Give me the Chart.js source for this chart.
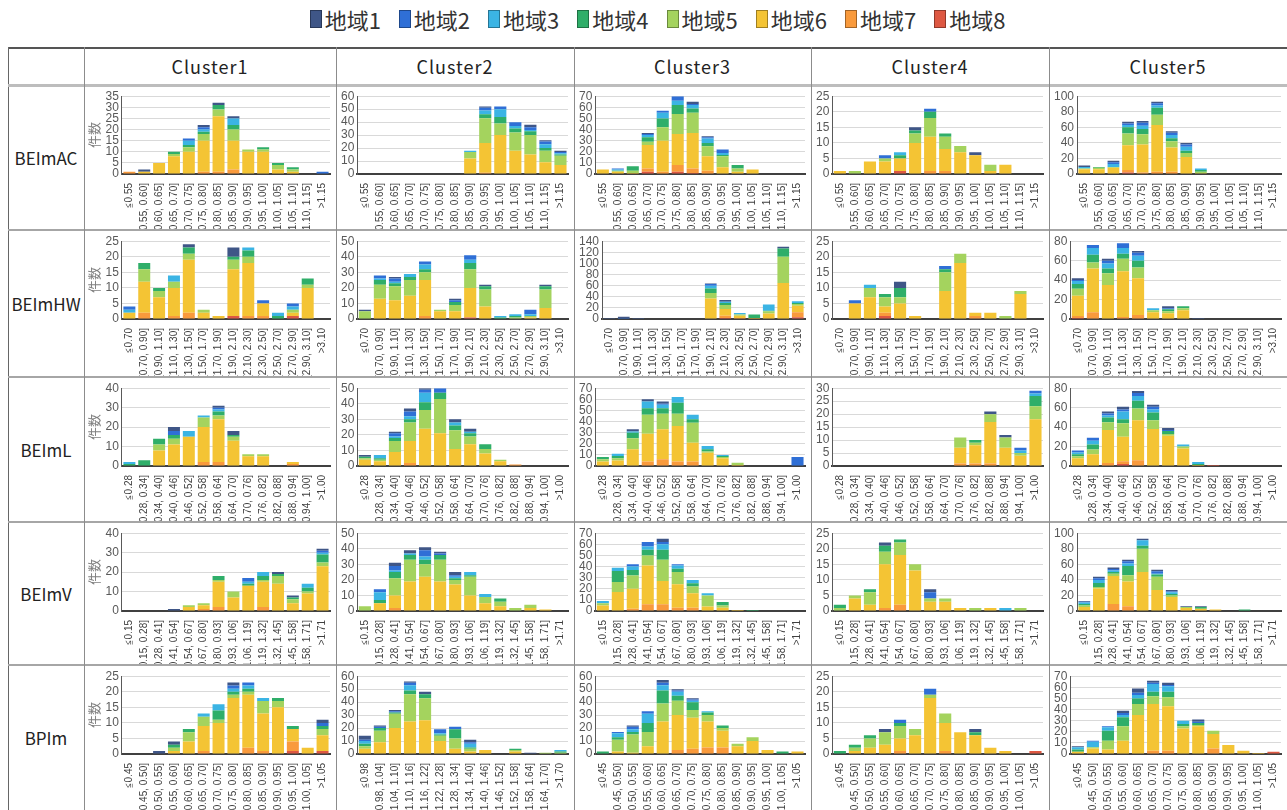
<!DOCTYPE html>
<html lang="ja">
<head>
<meta charset="UTF-8">
<title>クラスター別 指標分布</title>
<script src="https://cdn.jsdelivr.net/npm/chart.js"></script>
<style>
    body {
        margin: 0;
        width: 1287px;
        height: 810px;
        overflow: hidden;
        position: relative;
        background: #fff;
        font-family: 'Noto Sans CJK JP', sans-serif;
    }
    .legend {
        position: absolute;
        top: 4px;
        left: 14px;
        width: 1287px;
        display: flex;
        justify-content: center;
        gap: 18px;
        font-size: 22px;
        color: #333;
        line-height: 30px;
    }
    .legend-item { display: flex; align-items: center; gap: 3px; }
    .swatch {
        width: 12px;
        height: 18px;
        box-sizing: border-box;
        border: 1.5px solid rgba(0, 0, 0, 0.35);
    }
    .cell { position: absolute; overflow: hidden; }
    .head {
        display: flex;
        align-items: center;
        justify-content: center;
        font-size: 18px;
        letter-spacing: 1px;
        color: #222;
    }
    .rowhead { font-size: 17px; letter-spacing: 0; }
    .rule { position: absolute; }
</style>
</head>
<body>
<div class="legend" id="legend"></div>

<script>
    // 地域ごとの系列名と色
    const regions = ['地域1', '地域2', '地域3', '地域4', '地域5', '地域6', '地域7', '地域8'];
    const colors = ['#3f5687', '#2f6fd6', '#3bb4e4', '#2fae69', '#a4d35e', '#f4c434', '#f99a3c', '#de5842'];

    const clusters = ['Cluster1', 'Cluster2', 'Cluster3', 'Cluster4', 'Cluster5'];
    const indicators = ['BEImAC', 'BEImHW', 'BEImL', 'BEImV', 'BPIm'];

    // 階級ラベル
    const binsAC = ['≦0.55', '(0.55, 0.60]', '(0.60, 0.65]', '(0.65, 0.70]', '(0.70, 0.75]', '(0.75, 0.80]', '(0.80, 0.85]',
        '(0.85, 0.90]', '(0.90, 0.95]', '(0.95, 1.00]', '(1.00, 1.05]', '(1.05, 1.10]', '(1.10, 1.15]', '>1.15'];
    const binsHW = ['≦0.70', '(0.70, 0.90]', '(0.90, 1.10]', '(1.10, 1.30]', '(1.30, 1.50]', '(1.50, 1.70]', '(1.70, 1.90]',
        '(1.90, 2.10]', '(2.10, 2.30]', '(2.30, 2.50]', '(2.50, 2.70]', '(2.70, 2.90]', '(2.90, 3.10]', '>3.10'];
    const binsL = ['≦0.28', '(0.28, 0.34]', '(0.34, 0.40]', '(0.40, 0.46]', '(0.46, 0.52]', '(0.52, 0.58]', '(0.58, 0.64]',
        '(0.64, 0.70]', '(0.70, 0.76]', '(0.76, 0.82]', '(0.82, 0.88]', '(0.88, 0.94]', '(0.94, 1.00]', '>1.00'];
    const binsV = ['≦0.15', '(0.15, 0.28]', '(0.28, 0.41]', '(0.41, 0.54]', '(0.54, 0.67]', '(0.67, 0.80]', '(0.80, 0.93]',
        '(0.93, 1.06]', '(1.06, 1.19]', '(1.19, 1.32]', '(1.32, 1.45]', '(1.45, 1.58]', '(1.58, 1.71]', '>1.71'];
    const binsPI = ['≦0.45', '(0.45, 0.50]', '(0.50, 0.55]', '(0.55, 0.60]', '(0.60, 0.65]', '(0.65, 0.70]', '(0.70, 0.75]',
        '(0.75, 0.80]', '(0.80, 0.85]', '(0.85, 0.90]', '(0.90, 0.95]', '(0.95, 1.00]', '(1.00, 1.05]', '>1.05'];
    const binsPI2 = ['≦0.98', '(0.98, 1.04]', '(1.04, 1.10]', '(1.10, 1.16]', '(1.16, 1.22]', '(1.22, 1.28]', '(1.28, 1.34]',
        '(1.34, 1.40]', '(1.40, 1.46]', '(1.46, 1.52]', '(1.52, 1.58]', '(1.58, 1.64]', '(1.64, 1.70]', '>1.70'];

    // 縦軸の最大値と目盛間隔(行 = 指標, 列 = クラスター)
    const yMax = [[35, 60, 70, 25, 100], [25, 50, 140, 25, 80], [40, 50, 70, 30, 80], [40, 50, 70, 25, 100], [25, 60, 60, 25, 70]];
    const yStep = [[5, 10, 10, 5, 20], [5, 10, 20, 5, 20], [10, 10, 10, 5, 20], [10, 10, 10, 5, 20], [5, 10, 10, 5, 10]];

    // 件数: 各配列は 地域1 … 地域8 の順
    const acC1 = [
        [0, 1, 0, 0, 0, 1, 1, 1, 0, 0, 0, 0, 0, 0],
        [0, 0, 0, 0, 1, 1, 0, 0, 0, 0, 0, 0, 0, 1],
        [0, 0, 0, 0, 2, 1, 0, 3, 0, 0, 0, 0, 0, 0],
        [0, 0, 0, 1, 1, 1, 2, 2, 0, 1, 1, 1, 0, 0],
        [0, 0, 0, 1, 2, 3, 3, 5, 1, 1, 2, 1, 0, 0],
        [0, 1, 5, 8, 10, 14, 25, 13, 10, 10, 2, 1, 0, 0],
        [1, 0, 0, 0, 0, 1, 1, 2, 0, 0, 0, 0, 0, 0],
        [0, 0, 0, 0, 0, 0, 0, 0, 0, 0, 0, 0, 0, 0]
    ];
    const acC2 = [
        [0, 0, 0, 0, 0, 0, 0, 0, 1, 0, 0, 2, 1, 1],
        [0, 0, 0, 0, 0, 0, 0, 0, 2, 2, 3, 2, 2, 1],
        [0, 0, 0, 0, 0, 0, 0, 1, 3, 6, 2, 1, 3, 1],
        [0, 0, 0, 0, 0, 0, 0, 0, 3, 5, 3, 3, 2, 1],
        [0, 0, 0, 0, 0, 0, 0, 5, 19, 9, 14, 15, 9, 7],
        [0, 0, 0, 0, 0, 0, 0, 12, 23, 30, 18, 15, 9, 7],
        [0, 0, 0, 0, 0, 0, 0, 0, 1, 0, 0, 0, 0, 0],
        [0, 0, 0, 0, 0, 0, 0, 0, 0, 0, 0, 0, 0, 0]
    ];
    const acC3 = [
        [0, 0, 0, 1, 0, 0, 2, 1, 0, 0, 0, 0, 0, 0],
        [0, 1, 0, 1, 2, 4, 1, 1, 3, 0, 0, 0, 0, 0],
        [0, 1, 0, 2, 5, 4, 3, 4, 2, 0, 0, 0, 0, 0],
        [0, 0, 4, 4, 8, 8, 4, 3, 1, 3, 0, 0, 0, 0],
        [0, 1, 2, 3, 12, 18, 18, 9, 10, 3, 0, 0, 0, 0],
        [4, 2, 1, 21, 28, 28, 32, 13, 6, 2, 4, 0, 0, 0],
        [0, 0, 0, 3, 2, 6, 4, 3, 0, 0, 0, 0, 0, 0],
        [0, 0, 0, 2, 0, 2, 1, 0, 0, 0, 0, 0, 0, 0]
    ];
    const acC4 = [
        [0, 0, 0, 0, 0, 1, 0, 0, 0, 1, 0, 0, 0, 0],
        [0, 0, 0, 1, 0, 0, 1, 0, 0, 0, 0, 0, 0, 0],
        [0, 0, 0, 0, 1, 0, 0, 0, 0, 0, 0, 0, 0, 0],
        [0, 0, 0, 0, 1, 1, 2, 1, 0, 0, 0, 0, 0, 0],
        [0, 1, 0, 1, 0, 3, 6, 4, 2, 0, 2, 0, 0, 0],
        [1, 0, 4, 4, 4, 10, 11, 7, 7, 6, 1, 3, 0, 0],
        [0, 0, 0, 0, 0, 0, 1, 1, 0, 0, 0, 0, 0, 0],
        [0, 0, 0, 0, 1, 0, 0, 0, 0, 0, 0, 0, 0, 0]
    ];
    const acC5 = [
        [2, 0, 2, 2, 2, 2, 2, 2, 0, 0, 0, 0, 0, 0],
        [0, 0, 2, 2, 4, 3, 3, 3, 0, 0, 0, 0, 0, 0],
        [2, 0, 4, 3, 4, 3, 4, 5, 2, 0, 0, 0, 0, 0],
        [0, 1, 0, 8, 7, 9, 4, 3, 2, 0, 0, 0, 0, 0],
        [1, 2, 1, 15, 13, 13, 8, 5, 2, 0, 0, 0, 0, 0],
        [6, 6, 8, 32, 36, 60, 31, 22, 1, 0, 0, 0, 0, 0],
        [0, 0, 0, 3, 2, 3, 3, 0, 0, 0, 0, 0, 0, 0],
        [0, 0, 0, 2, 0, 0, 0, 0, 0, 0, 0, 0, 0, 0]
    ];

    const hwC1 = [
        [0, 0, 0, 0, 1, 0, 0, 3, 0, 0, 0, 0, 0, 0],
        [1, 0, 0, 0, 0, 0, 0, 0, 0, 1, 0, 1, 0, 0],
        [1, 0, 0, 2, 0, 0, 0, 0, 1, 0, 1, 1, 0, 0],
        [0, 2, 1, 0, 2, 0, 0, 1, 2, 0, 1, 0, 2, 0],
        [0, 4, 2, 2, 2, 1, 0, 3, 2, 0, 0, 1, 1, 0],
        [2, 10, 7, 9, 17, 2, 1, 15, 17, 4, 0, 1, 10, 0],
        [0, 2, 0, 1, 2, 0, 0, 0, 1, 1, 0, 0, 0, 0],
        [0, 0, 0, 0, 0, 0, 0, 1, 0, 0, 0, 1, 0, 0]
    ];
    const hwC2 = [
        [1, 0, 1, 0, 0, 0, 1, 0, 1, 0, 0, 0, 1, 0],
        [0, 2, 2, 0, 2, 0, 1, 3, 0, 0, 0, 3, 0, 0],
        [0, 1, 1, 2, 3, 0, 0, 2, 0, 1, 1, 1, 0, 0],
        [0, 3, 2, 2, 2, 0, 2, 4, 2, 1, 1, 0, 2, 0],
        [5, 9, 9, 10, 5, 1, 4, 12, 11, 0, 1, 1, 12, 0],
        [0, 13, 12, 15, 23, 5, 5, 19, 8, 0, 0, 1, 7, 0],
        [0, 0, 0, 0, 2, 0, 0, 0, 0, 0, 0, 0, 0, 0],
        [0, 0, 0, 0, 0, 0, 0, 1, 0, 0, 0, 0, 0, 0]
    ];
    const hwC3 = [
        [1, 2, 1, 0, 0, 0, 0, 1, 3, 0, 0, 0, 3, 0],
        [1, 2, 1, 0, 0, 0, 0, 3, 0, 0, 0, 0, 0, 0],
        [0, 0, 0, 0, 0, 0, 0, 5, 2, 3, 0, 11, 0, 3],
        [0, 0, 0, 0, 0, 0, 0, 8, 4, 0, 6, 1, 15, 2],
        [0, 0, 0, 0, 0, 0, 0, 10, 7, 2, 0, 4, 47, 3],
        [0, 0, 0, 0, 0, 0, 0, 37, 12, 4, 2, 10, 65, 12],
        [0, 0, 0, 0, 0, 0, 0, 0, 4, 2, 0, 0, 0, 9],
        [0, 0, 0, 0, 0, 0, 0, 0, 2, 0, 0, 0, 0, 3]
    ];
    const hwC4 = [
        [0, 0, 0, 0, 2, 0, 0, 0, 0, 0, 0, 0, 0, 0],
        [0, 1, 0, 0, 0, 0, 0, 1, 0, 0, 0, 0, 0, 0],
        [0, 0, 1, 0, 0, 0, 0, 0, 0, 0, 0, 0, 0, 0],
        [0, 0, 0, 1, 3, 0, 0, 1, 0, 0, 0, 0, 0, 0],
        [0, 0, 3, 3, 2, 0, 0, 6, 3, 0, 0, 1, 1, 0],
        [0, 5, 7, 2, 5, 1, 0, 9, 18, 1, 2, 0, 8, 0],
        [0, 0, 0, 1, 0, 0, 0, 0, 0, 1, 0, 0, 0, 0],
        [0, 0, 0, 1, 0, 0, 0, 0, 0, 0, 0, 0, 0, 0]
    ];
    const hwC5 = [
        [2, 0, 2, 0, 2, 0, 2, 0, 1, 0, 0, 0, 0, 0],
        [1, 3, 3, 5, 3, 0, 1, 0, 0, 0, 0, 0, 0, 0],
        [3, 7, 5, 6, 5, 2, 0, 0, 0, 0, 0, 0, 0, 0],
        [5, 8, 5, 5, 7, 0, 2, 2, 0, 0, 0, 0, 0, 0],
        [7, 6, 12, 13, 11, 2, 2, 2, 0, 0, 0, 0, 0, 0],
        [21, 45, 35, 47, 38, 7, 6, 9, 0, 0, 0, 0, 0, 0],
        [2, 7, 0, 2, 4, 0, 0, 0, 0, 0, 0, 0, 0, 0],
        [1, 0, 0, 0, 0, 0, 0, 0, 0, 0, 0, 0, 0, 0]
    ];

    const lC1 = [
        [0, 0, 0, 2, 0, 0, 1, 2, 0, 0, 0, 0, 0, 0],
        [0, 0, 0, 2, 0, 0, 1, 0, 0, 0, 0, 0, 0, 0],
        [1, 0, 0, 0, 3, 1, 1, 0, 0, 0, 0, 0, 0, 0],
        [1, 3, 3, 2, 0, 0, 2, 1, 0, 0, 0, 0, 0, 0],
        [0, 0, 3, 3, 0, 5, 2, 2, 1, 1, 0, 0, 0, 0],
        [0, 0, 8, 11, 15, 18, 22, 13, 5, 5, 0, 1, 0, 0],
        [0, 0, 0, 0, 0, 2, 2, 0, 0, 0, 0, 1, 0, 0],
        [0, 0, 0, 0, 0, 0, 0, 0, 0, 0, 0, 0, 0, 0]
    ];
    const lC2 = [
        [1, 0, 1, 2, 1, 0, 2, 2, 0, 0, 0, 0, 0, 0],
        [0, 0, 2, 3, 2, 3, 0, 0, 0, 0, 0, 0, 0, 0],
        [0, 2, 1, 2, 6, 0, 2, 1, 0, 0, 0, 0, 0, 0],
        [1, 1, 2, 2, 5, 4, 3, 2, 3, 0, 0, 0, 0, 0],
        [1, 1, 7, 12, 12, 22, 12, 5, 3, 1, 0, 0, 0, 0],
        [4, 3, 9, 14, 24, 21, 11, 14, 8, 3, 0, 0, 0, 0],
        [0, 0, 0, 2, 0, 0, 0, 0, 0, 0, 1, 0, 0, 0],
        [0, 0, 0, 0, 0, 0, 0, 0, 0, 0, 0, 0, 0, 0]
    ];
    const lC3 = [
        [0, 0, 2, 2, 2, 0, 0, 0, 0, 0, 0, 0, 0, 0],
        [0, 0, 0, 0, 1, 0, 0, 0, 0, 0, 0, 0, 0, 8],
        [0, 2, 1, 6, 3, 5, 4, 3, 1, 0, 0, 0, 0, 0],
        [2, 2, 5, 6, 5, 10, 3, 2, 1, 0, 0, 0, 0, 0],
        [2, 2, 10, 17, 14, 11, 18, 1, 1, 2, 0, 0, 0, 0],
        [4, 5, 15, 25, 27, 32, 17, 12, 7, 1, 0, 0, 0, 0],
        [0, 0, 0, 4, 6, 4, 4, 0, 0, 0, 0, 0, 0, 0],
        [0, 0, 0, 0, 0, 0, 0, 0, 0, 0, 0, 0, 0, 0]
    ];
    const lC4 = [
        [0, 0, 0, 0, 0, 0, 0, 0, 0, 0, 1, 1, 0, 0],
        [0, 0, 0, 0, 0, 0, 0, 0, 0, 0, 0, 0, 1, 1],
        [0, 0, 0, 0, 0, 0, 0, 0, 0, 0, 0, 0, 1, 1],
        [0, 0, 0, 0, 0, 0, 0, 0, 0, 1, 0, 0, 0, 4],
        [0, 0, 0, 0, 0, 0, 0, 0, 4, 1, 3, 4, 1, 5],
        [0, 0, 0, 0, 0, 0, 0, 0, 6, 7, 16, 7, 4, 18],
        [0, 0, 0, 0, 0, 0, 0, 0, 1, 1, 1, 0, 0, 0],
        [0, 0, 0, 0, 0, 0, 0, 0, 0, 0, 0, 0, 0, 0]
    ];
    const lC5 = [
        [0, 0, 2, 3, 2, 2, 2, 0, 0, 0, 0, 0, 0, 0],
        [2, 3, 2, 2, 3, 3, 1, 0, 0, 0, 0, 0, 0, 0],
        [2, 4, 2, 8, 5, 3, 0, 2, 2, 0, 0, 0, 0, 0],
        [2, 5, 5, 4, 8, 8, 3, 0, 1, 0, 0, 0, 0, 0],
        [2, 5, 8, 14, 12, 9, 2, 2, 0, 0, 0, 0, 0, 0],
        [8, 12, 34, 25, 41, 38, 31, 18, 1, 0, 0, 0, 0, 0],
        [0, 0, 3, 3, 6, 0, 0, 0, 0, 0, 0, 0, 0, 0],
        [0, 0, 0, 2, 0, 0, 0, 0, 0, 1, 0, 0, 0, 0]
    ];

    const vC1 = [
        [0, 0, 0, 1, 0, 0, 0, 0, 0, 0, 1, 1, 0, 1],
        [0, 0, 0, 0, 0, 0, 0, 0, 2, 0, 0, 0, 0, 1],
        [0, 0, 0, 0, 0, 0, 0, 0, 1, 2, 0, 0, 2, 1],
        [0, 0, 0, 0, 0, 0, 2, 0, 1, 2, 1, 1, 2, 4],
        [0, 0, 0, 0, 1, 1, 1, 3, 0, 1, 4, 2, 1, 2],
        [0, 0, 0, 0, 2, 2, 13, 7, 13, 13, 14, 4, 9, 23],
        [0, 0, 0, 0, 0, 1, 2, 0, 0, 2, 0, 0, 0, 0],
        [0, 0, 0, 0, 0, 0, 0, 0, 0, 0, 0, 0, 0, 0]
    ];
    const vC2 = [
        [0, 0, 2, 2, 2, 1, 2, 0, 0, 0, 0, 0, 0, 0],
        [0, 2, 3, 0, 4, 1, 1, 0, 0, 0, 0, 0, 0, 0],
        [0, 5, 1, 1, 2, 0, 1, 2, 2, 0, 0, 0, 0, 0],
        [0, 2, 4, 3, 3, 3, 1, 1, 0, 2, 0, 0, 0, 0],
        [3, 0, 11, 14, 8, 14, 3, 12, 4, 3, 2, 2, 0, 0],
        [0, 5, 8, 19, 22, 19, 17, 10, 5, 3, 0, 2, 1, 0],
        [0, 0, 2, 0, 0, 0, 0, 0, 0, 0, 0, 0, 0, 0],
        [0, 0, 0, 0, 0, 0, 0, 0, 0, 0, 0, 0, 0, 0]
    ];
    const vC3 = [
        [0, 0, 0, 0, 3, 0, 0, 0, 0, 0, 0, 0, 0, 0],
        [0, 0, 2, 4, 2, 1, 0, 0, 0, 0, 0, 0, 0, 0],
        [2, 3, 3, 3, 5, 3, 3, 2, 0, 0, 0, 0, 0, 0],
        [0, 10, 5, 5, 9, 3, 3, 0, 3, 0, 1, 0, 0, 0],
        [2, 9, 12, 9, 19, 11, 6, 10, 2, 0, 0, 0, 0, 0],
        [5, 17, 18, 35, 21, 21, 13, 4, 3, 1, 0, 0, 0, 0],
        [0, 0, 2, 6, 6, 3, 3, 0, 0, 0, 0, 0, 0, 0],
        [0, 0, 0, 0, 0, 0, 0, 0, 0, 0, 0, 0, 0, 0]
    ];
    const vC4 = [
        [0, 0, 0, 1, 0, 0, 1, 0, 0, 0, 0, 0, 0, 0],
        [0, 0, 0, 0, 0, 0, 2, 0, 0, 0, 0, 0, 0, 0],
        [0, 0, 0, 0, 0, 0, 0, 0, 0, 0, 0, 1, 0, 0],
        [1, 0, 1, 2, 1, 0, 0, 0, 0, 0, 0, 0, 0, 0],
        [1, 1, 4, 4, 4, 2, 1, 1, 0, 1, 0, 0, 1, 0],
        [0, 4, 2, 14, 16, 13, 3, 3, 1, 0, 1, 0, 0, 0],
        [0, 0, 0, 1, 2, 0, 0, 0, 0, 0, 0, 0, 0, 0],
        [0, 0, 0, 0, 0, 0, 0, 0, 0, 0, 0, 0, 0, 0]
    ];
    const vC5 = [
        [1, 2, 2, 2, 2, 2, 2, 1, 1, 0, 0, 0, 0, 0],
        [1, 2, 2, 3, 0, 3, 1, 0, 0, 0, 0, 0, 0, 0],
        [2, 4, 2, 3, 7, 1, 2, 0, 0, 0, 0, 0, 0, 0],
        [2, 5, 2, 12, 4, 3, 2, 0, 2, 0, 0, 2, 0, 0],
        [2, 2, 3, 8, 30, 17, 2, 1, 0, 0, 0, 0, 0, 0],
        [5, 29, 36, 32, 50, 27, 18, 4, 3, 2, 0, 0, 0, 0],
        [0, 0, 9, 6, 0, 0, 0, 0, 0, 0, 0, 0, 0, 0],
        [0, 0, 0, 0, 0, 0, 0, 0, 0, 0, 0, 0, 0, 0]
    ];

    const pC1 = [
        [0, 0, 1, 1, 0, 0, 0, 1, 0, 0, 0, 0, 0, 1],
        [0, 0, 0, 0, 0, 0, 0, 1, 1, 0, 0, 0, 0, 1],
        [0, 0, 0, 0, 0, 1, 2, 1, 1, 1, 0, 0, 0, 0],
        [0, 0, 0, 1, 1, 0, 3, 1, 1, 0, 1, 1, 0, 1],
        [0, 0, 0, 1, 3, 3, 1, 1, 1, 4, 2, 0, 0, 2],
        [0, 0, 0, 1, 4, 8, 10, 18, 17, 12, 15, 4, 2, 5],
        [0, 0, 0, 0, 0, 1, 0, 0, 2, 1, 0, 3, 0, 0],
        [0, 0, 0, 0, 0, 0, 0, 0, 0, 0, 0, 1, 0, 1]
    ];
    const pC2 = [
        [3, 1, 1, 1, 2, 0, 0, 2, 0, 0, 0, 1, 0, 0],
        [1, 1, 1, 2, 0, 3, 2, 1, 0, 0, 0, 0, 0, 0],
        [2, 0, 0, 4, 0, 1, 0, 3, 0, 0, 0, 0, 0, 1],
        [2, 2, 1, 3, 3, 1, 7, 1, 0, 0, 1, 0, 0, 1],
        [2, 9, 11, 21, 17, 4, 8, 2, 0, 0, 1, 0, 1, 1],
        [4, 9, 20, 25, 26, 10, 4, 2, 3, 0, 2, 0, 0, 0],
        [0, 0, 0, 0, 0, 0, 0, 0, 0, 0, 0, 0, 0, 0],
        [0, 0, 0, 0, 0, 0, 0, 0, 0, 0, 0, 0, 0, 0]
    ];
    const pC3 = [
        [0, 0, 1, 0, 2, 1, 1, 0, 0, 0, 0, 0, 0, 0],
        [0, 1, 2, 2, 2, 1, 1, 0, 0, 0, 0, 0, 0, 0],
        [0, 3, 2, 7, 4, 3, 1, 1, 0, 0, 0, 0, 0, 0],
        [2, 2, 2, 7, 10, 4, 6, 2, 2, 0, 0, 0, 2, 0],
        [0, 9, 14, 11, 14, 11, 6, 5, 2, 2, 3, 0, 0, 0],
        [0, 2, 1, 6, 25, 27, 24, 20, 13, 6, 10, 3, 0, 2],
        [0, 0, 0, 0, 0, 3, 4, 5, 5, 0, 0, 0, 0, 0],
        [0, 0, 0, 0, 0, 0, 0, 0, 0, 0, 0, 0, 0, 0]
    ];
    const pC4 = [
        [0, 0, 0, 1, 0, 0, 0, 0, 0, 1, 0, 0, 0, 0],
        [0, 0, 0, 0, 1, 0, 2, 0, 0, 0, 0, 0, 0, 0],
        [0, 0, 0, 0, 0, 0, 0, 0, 0, 0, 0, 0, 0, 0],
        [1, 1, 1, 0, 1, 0, 0, 0, 0, 1, 0, 0, 0, 0],
        [0, 1, 3, 4, 4, 2, 1, 3, 0, 0, 0, 0, 0, 0],
        [0, 1, 2, 3, 4, 6, 18, 9, 7, 6, 2, 1, 0, 0],
        [0, 0, 0, 0, 1, 0, 0, 1, 0, 0, 0, 0, 0, 0],
        [0, 0, 0, 0, 0, 0, 0, 0, 0, 0, 0, 0, 0, 1]
    ];
    const pC5 = [
        [1, 0, 0, 2, 4, 2, 2, 0, 2, 0, 0, 0, 0, 0],
        [0, 1, 1, 2, 2, 1, 1, 0, 1, 0, 0, 0, 0, 0],
        [2, 5, 3, 2, 3, 7, 5, 3, 0, 0, 0, 0, 0, 0],
        [2, 0, 9, 8, 5, 4, 5, 2, 2, 0, 0, 0, 0, 0],
        [0, 1, 8, 13, 10, 7, 8, 2, 1, 3, 0, 0, 0, 0],
        [2, 5, 4, 12, 35, 42, 40, 23, 25, 13, 8, 3, 1, 0],
        [0, 0, 0, 0, 0, 3, 3, 0, 0, 5, 0, 0, 0, 0],
        [0, 0, 0, 0, 0, 0, 0, 0, 0, 0, 0, 0, 0, 2]
    ];

    const grid = [
        [acC1, acC2, acC3, acC4, acC5],
        [hwC1, hwC2, hwC3, hwC4, hwC5],
        [lC1, lC2, lC3, lC4, lC5],
        [vC1, vC2, vC3, vC4, vC5],
        [pC1, pC2, pC3, pC4, pC5]
    ];
    const gridBins = [
        [binsAC, binsAC, binsAC, binsAC, binsAC],
        [binsHW, binsHW, binsHW, binsHW, binsHW],
        [binsL, binsL, binsL, binsL, binsL],
        [binsV, binsV, binsV, binsV, binsV],
        [binsPI, binsPI2, binsPI, binsPI, binsPI]
    ];

    // 表の罫線位置
    const colEdges = [8, 84, 336, 574, 811, 1049, 1287];
    const rowEdges = [47, 85, 230, 377, 522, 665, 810];

    Chart.defaults.font.family = "'Liberation Sans', Arial, sans-serif";

    // 凡例
    const legendEl = document.getElementById('legend');
    regions.forEach((name, i) => {
        const item = document.createElement('div');
        item.className = 'legend-item';
        const sw = document.createElement('div');
        sw.className = 'swatch';
        sw.style.background = colors[i];
        const label = document.createElement('span');
        label.textContent = name;
        item.appendChild(sw);
        item.appendChild(label);
        legendEl.appendChild(item);
    });

    function addRule(x, y, w, h, color) {
        const d = document.createElement('div');
        d.className = 'rule';
        Object.assign(d.style, { left: x + 'px', top: y + 'px', width: w + 'px', height: h + 'px', background: color });
        document.body.appendChild(d);
    }

    function addCell(x, y, w, h) {
        const d = document.createElement('div');
        d.className = 'cell';
        Object.assign(d.style, { left: x + 'px', top: y + 'px', width: w + 'px', height: h + 'px' });
        document.body.appendChild(d);
        return d;
    }

    // 見出し行・見出し列
    clusters.forEach((name, c) => {
        const d = addCell(colEdges[c + 1], rowEdges[0], colEdges[c + 2] - colEdges[c + 1], rowEdges[1] - rowEdges[0]);
        d.classList.add('head');
        d.textContent = name;
    });
    indicators.forEach((name, r) => {
        const d = addCell(colEdges[0], rowEdges[r + 1], colEdges[1] - colEdges[0], rowEdges[r + 2] - rowEdges[r + 1]);
        d.classList.add('head', 'rowhead');
        d.textContent = name;
    });

    function drawChart(cell, w, h, labels, series, max, step, withTitle) {
        const canvas = document.createElement('canvas');
        canvas.width = w;
        canvas.height = h;
        cell.appendChild(canvas);

        // 地域8 を一番下に積む
        const datasets = series.map((vals, i) => ({
            label: regions[i],
            data: vals,
            backgroundColor: colors[i],
            borderWidth: 0,
            barPercentage: 0.84,
            categoryPercentage: 0.96
        })).reverse();

        new Chart(canvas, {
            type: 'bar',
            data: { labels: labels, datasets: datasets },
            options: {
                responsive: false,
                animation: false,
                layout: { padding: { top: 2, right: 6, left: 1, bottom: 0 } },
                plugins: { legend: { display: false } },
                scales: {
                    x: {
                        stacked: true,
                        grid: { display: false },
                        border: { display: true, color: '#404040', width: 2 },
                        ticks: {
                            autoSkip: false,
                            maxRotation: 90,
                            minRotation: 90,
                            padding: 1,
                            color: '#404040',
                            font: { size: 10 }
                        },
                        // 長い階級ラベルはセルの下端で切れる
                        afterFit: (axis) => { axis.height = h - 88; }
                    },
                    y: {
                        stacked: true,
                        min: 0,
                        max: max,
                        grid: { color: '#d9d9d9', drawTicks: false },
                        border: { display: true, color: '#595959', width: 1 },
                        ticks: { stepSize: step, autoSkip: false, padding: 3, color: '#595959', font: { size: 12 } },
                        title: {
                            display: withTitle,
                            text: '件数',
                            color: '#7f7f7f',
                            padding: { top: 0, bottom: 1 },
                            font: { size: 13, family: "'Noto Sans CJK JP', sans-serif" }
                        }
                    }
                }
            }
        });
    }

    for (let r = 0; r < 5; r++) {
        for (let c = 0; c < 5; c++) {
            const x = colEdges[c + 1] + 1;
            const y = rowEdges[r + 1] + 1;
            const w = colEdges[c + 2] - colEdges[c + 1] - 1;
            const h = rowEdges[r + 2] - rowEdges[r + 1] - 1;
            const cell = addCell(x, y, w, h);
            drawChart(cell, w, h, gridBins[r][c], grid[r][c], yMax[r][c], yStep[r][c], c === 0);
        }
    }

    // 罫線
    addRule(colEdges[0], rowEdges[0], colEdges[6] - colEdges[0], 2, '#555');
    addRule(colEdges[0], rowEdges[0], 1, rowEdges[6] - rowEdges[0], '#666');
    addRule(colEdges[0], rowEdges[1] - 1, colEdges[6] - colEdges[0], 3, '#bdbdbd');
    for (let r = 2; r < 6; r++) addRule(colEdges[0], rowEdges[r] - 1, colEdges[6] - colEdges[0], 2, '#a6a6a6');
    for (let c = 1; c < 6; c++) addRule(colEdges[c], rowEdges[0], 1, rowEdges[6] - rowEdges[0], '#8c8c8c');
</script>
</body>
</html>
